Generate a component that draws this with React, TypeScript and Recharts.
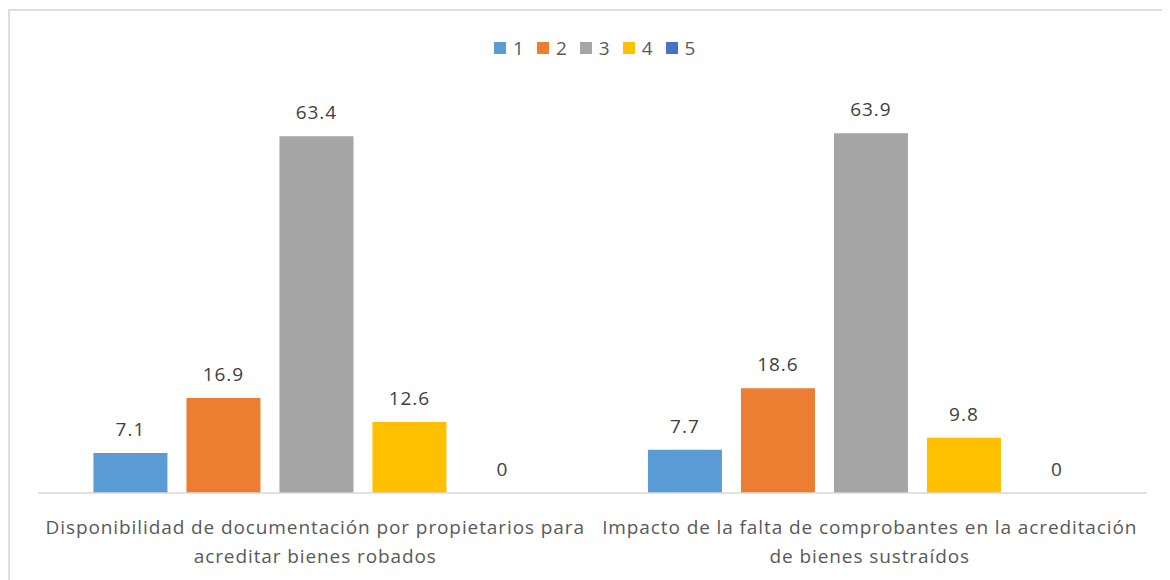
import { BarChart, Bar, XAxis, YAxis, LabelList } from "recharts";

// categories (explicit line breaks as in the reference)
const categories = [
  "Disponibilidad de documentación por propietarios para\nacreditar bienes robados",
  "Impacto de la falta de comprobantes en la acreditación\nde bienes sustraídos",
];

const seriesNames = ["1", "2", "3", "4", "5"];
const seriesColors = ["#5B9BD5", "#ED7D31", "#A5A5A5", "#FFC000", "#4472C4"];

const values1 = [7.1, 7.7];
const values2 = [16.9, 18.6];
const values3 = [63.4, 63.9];
const values4 = [12.6, 9.8];
const values5 = [0, 0];

const seriesValues = [values1, values2, values3, values4, values5];

const data = categories.map((name, i) => {
  const row: Record<string, string | number> = { name };
  seriesNames.forEach((s, j) => {
    row["s" + s] = seriesValues[j][i];
  });
  return row;
});

const FONT = "'Open Sans', sans-serif";

function CategoryTick(props: any) {
  const { x, y, payload } = props;
  const lines = String(payload.value).split("\n");
  return (
    <g transform={`translate(${x},${y})`}>
      {lines.map((line, i) => (
        <text
          key={i}
          x={0}
          y={33 + i * 29}
          textAnchor="middle"
          fill="#595959"
          fontSize={19}
          letterSpacing={0.9}
          fontFamily={FONT}
        >
          {line}
        </text>
      ))}
    </g>
  );
}

function ChartLegend() {
  return (
    <div
      style={{
        position: "absolute",
        left: 484,
        top: 27,
        display: "flex",
        alignItems: "center",
        fontFamily: FONT,
        fontSize: 19,
        letterSpacing: 1,
        color: "#595959",
        lineHeight: "20px",
      }}
    >
      {seriesNames.map((s, i) => (
        <div key={s} style={{ display: "flex", alignItems: "center", marginRight: 12 }}>
          <span
            style={{
              width: 12,
              height: 12,
              background: seriesColors[i],
              display: "inline-block",
              marginRight: 7,
            }}
          />
          <span>{s}</span>
        </div>
      ))}
    </div>
  );
}

export default function App() {
  return (
    <div
      style={{
        position: "relative",
        width: 1170,
        height: 580,
        boxSizing: "border-box",
        border: "2px solid #dedede",
        borderRight: "none",
        borderBottom: "none",
        background: "#fff",
        marginTop: 1,
      }}
    >
      <ChartLegend />
      <div style={{ position: "absolute", left: 0, top: 0 }}>
        <BarChart
          width={1160}
          height={570}
          data={data}
          margin={{ top: 88, right: 23, bottom: 8, left: 28 }}
          barCategoryGap="10%"
          barGap={19}
        >
          <XAxis
            dataKey="name"
            interval={0}
            height={80}
            tickLine={false}
            axisLine={{ stroke: "#d9d9d9", strokeWidth: 1.5 }}
            tick={<CategoryTick />}
          />
          <YAxis hide domain={[0, 70]} />
          {seriesNames.map((s, i) => (
            <Bar
              key={s}
              dataKey={"s" + s}
              name={s}
              fill={seriesColors[i]}
              minPointSize={0.01}
              isAnimationActive={false}
            >
              <LabelList
                dataKey={"s" + s}
                position="top"
                offset={17}
                fill="#404040"
                fontSize={19}
                letterSpacing={1}
                fontFamily={FONT}
              />
            </Bar>
          ))}
        </BarChart>
      </div>
    </div>
  );
}
